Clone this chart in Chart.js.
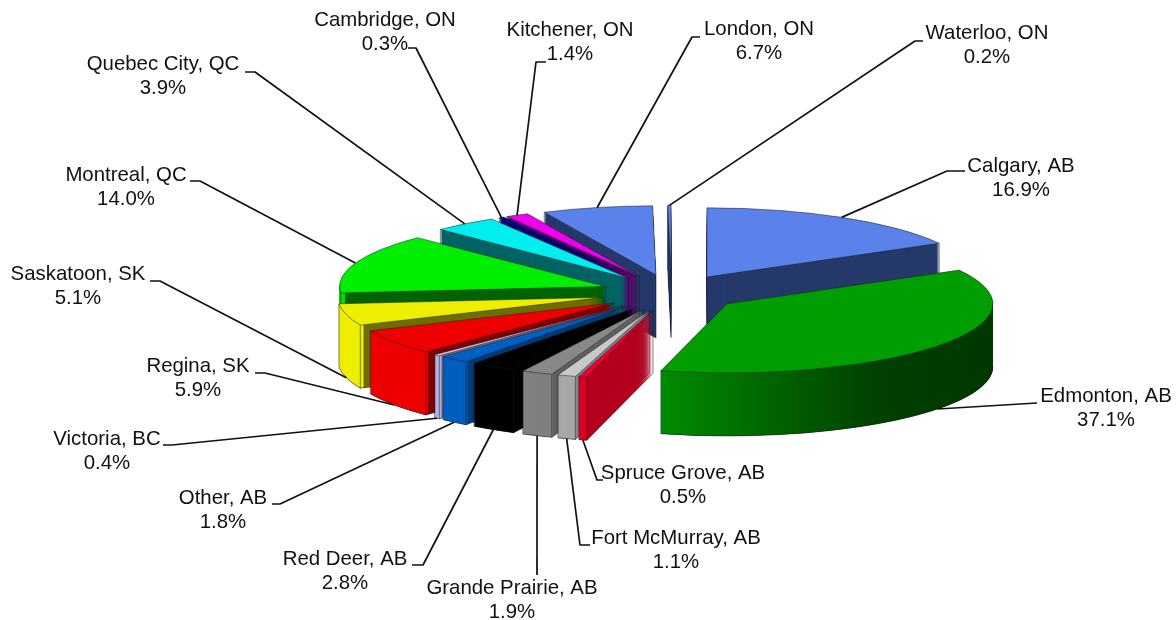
<!DOCTYPE html>
<html>
<head>
<meta charset="utf-8">
<style>html,body{margin:0;padding:0;background:#fff}canvas{display:block}</style>
<script src="https://cdn.jsdelivr.net/npm/chart.js@4"></script>
</head>
<body>
<canvas id="c" width="1176" height="620"></canvas>
<script>
const categories = ['Calgary, AB','Edmonton, AB','Spruce Grove, AB','Fort McMurray, AB','Grande Prairie, AB','Red Deer, AB','Other, AB','Victoria, BC','Regina, SK','Saskatoon, SK','Montreal, QC','Quebec City, QC','Cambridge, ON','Kitchener, ON','London, ON','Waterloo, ON'];
const shares = [16.9,37.1,0.5,1.1,1.9,2.8,1.8,0.4,5.9,5.1,14.0,3.9,0.3,1.4,6.7,0.2];
const topColors = ['#5B82EB','#009E00','#EE0030','#C8C8C8','#888888','#000000','#005FC4','#C4C4F2','#EE0000','#EEEE00','#00EE00','#00EEEE','#0000A0','#EE00EE','#5B82EB','#5B82EB'];
const wallColors = ['#25396A','#004800','#B4001E','#808080','#606060','#000000','#003C78','#70708C','#800000','#6E6E00','#006400','#006464','#00006E','#700070','#25396A','#25396A'];
const rimColors = ['#25396A',['#008C00','#004000','#003800'],'#DC0028','#A8A8A8','#808080','#000000','#005FBF','#B4B4E6','#EE0000','#EEEE00','#00E000','#00E0E0','#000090','#E000E0','#25396A','#25396A'];

// label text centre x, first-line middle y, leader elbow x/y, leader end x
const labelLayout = [
 [1021,165,947,171,965],[1106,395,1037,403,1037],[683,472,597,480,603],[676,537,580,545,590],
 [512,587,537,575,537],[345,558,423,565,412],[223,497,280,504,272],[107,438,172,445,163],
 [198,365,265,373,255],[78,273,160,281,150],[126,174,200,181,190],[163,63,255,72,245],
 [385,19,416,48,408],[570,29,536,62,546],[759,28,692,37,700],[987,32,915,41,923]
];

const PIE = {cx:671.5, cy:292.7, radius:266, tilt:0.26, explode:70, depth:63};
const FONT = '20.4px "Liberation Sans", Arial, sans-serif';

function clockAngle(a){ return (a.startAngle + a.endAngle)/2 + Math.PI/2; }
function apexOf(a){
  const t = clockAngle(a);
  return {x: PIE.cx + Math.sin(t)*PIE.explode, y: PIE.cy - Math.cos(t)*PIE.explode*PIE.tilt};
}
function paint(ctx, arc, apex, d, fill, inner, from, to){
  const o = arc.options, ir = arc.innerRadius, s0 = arc.startAngle, e0 = arc.endAngle;
  const t = Object.create(o);
  t.backgroundColor = fill; t.borderWidth = 0;
  arc.options = t;
  if (inner !== undefined) arc.innerRadius = inner;
  if (from !== undefined){ arc.startAngle = from; arc.endAngle = to; }
  ctx.save();
  ctx.translate(apex.x, apex.y + d);
  ctx.scale(1, PIE.tilt);
  ctx.translate(-arc.x, -arc.y);
  arc.draw(ctx);
  ctx.restore();
  arc.options = o; arc.innerRadius = ir; arc.startAngle = s0; arc.endAngle = e0;
}
function rimPoint(apex, ang, d){
  return {x: apex.x + Math.cos(ang)*PIE.radius, y: apex.y + d + Math.sin(ang)*PIE.radius*PIE.tilt};
}
function seg(ctx,p,q){ ctx.beginPath(); ctx.moveTo(p.x,p.y); ctx.lineTo(q.x,q.y); ctx.stroke(); }

const pie3d = {
  id:'pie3d',
  beforeDatasetsDraw(chart){
    const ctx = chart.ctx, arcs = chart.getDatasetMeta(0).data;
    const order = arcs.map((a,i)=>i).sort((p,q)=>-Math.cos(clockAngle(arcs[p])) + Math.cos(clockAngle(arcs[q])));
    const R = PIE.radius, D = PIE.depth;
    order.forEach(i=>{
      const a = arcs[i], apex = apexOf(a), s = a.startAngle, e = a.endAngle;
      let rim = rimColors[i];
      if (Array.isArray(rim)){
        const g = ctx.createLinearGradient(a.x-0.25*R,0,a.x+R,0);
        g.addColorStop(0,rim[0]); g.addColorStop(0.65,rim[1]); g.addColorStop(1,rim[2]);
        rim = g;
      }
      for (let d=D; d>0; d-=1) paint(ctx,a,apex,d,wallColors[i]);
      const f0 = Math.max(s,0), f1 = Math.min(e,Math.PI);
      if (f1>f0) for (let d=D; d>0; d-=0.5) paint(ctx,a,apex,d,rim,R-4,f0,f1);
      // wall edges
      ctx.save();
      ctx.strokeStyle='rgba(25,25,25,0.75)'; ctx.lineWidth=0.7;
      const startVis = Math.sin(s-Math.PI/2)>0, endVis = Math.sin(e+Math.PI/2)>0;
      const A0={x:apex.x,y:apex.y}, A1={x:apex.x,y:apex.y+D};
      if (startVis||endVis) seg(ctx,A0,A1);
      if (startVis) seg(ctx,A1,rimPoint(apex,s,D));
      if (endVis) seg(ctx,A1,rimPoint(apex,e,D));
      if (startVis||Math.sin(s)>0) seg(ctx,rimPoint(apex,s,0),rimPoint(apex,s,D));
      if (endVis||Math.sin(e)>0) seg(ctx,rimPoint(apex,e,0),rimPoint(apex,e,D));
      if (f1>f0){
        ctx.beginPath();
        ctx.ellipse(apex.x,apex.y+D,R,R*PIE.tilt,0,f0,f1);
        ctx.stroke();
      }
      ctx.restore();
      // top face
      paint(ctx,a,apex,0,topColors[i]);
      ctx.save();
      ctx.strokeStyle='rgba(25,25,25,0.7)'; ctx.lineWidth=0.7;
      ctx.beginPath();
      ctx.moveTo(apex.x,apex.y);
      ctx.ellipse(apex.x,apex.y,R,R*PIE.tilt,0,s,e);
      ctx.closePath();
      ctx.stroke();
      ctx.restore();
    });
    // leaders and labels
    ctx.save();
    ctx.strokeStyle='#111'; ctx.lineWidth=1.7; ctx.lineJoin='round';
    ctx.fillStyle='#111'; ctx.font=FONT; ctx.textAlign='center'; ctx.textBaseline='middle';
    arcs.forEach((a,i)=>{
      const L = labelLayout[i], apex = apexOf(a), mid=(a.startAngle+a.endAngle)/2;
      const p = rimPoint(apex, mid, Math.sin(mid)>0 ? D : 0);
      ctx.beginPath(); ctx.moveTo(p.x,p.y); ctx.lineTo(L[2],L[3]); ctx.lineTo(L[4],L[3]); ctx.stroke();
      ctx.fillText(categories[i], L[0], L[1]+1);
      ctx.fillText(shares[i].toFixed(1)+'%', L[0], L[1]+25.5);
    });
    ctx.restore();
    return false;
  }
};

new Chart(document.getElementById('c'),{
  type:'pie',
  data:{labels:categories,datasets:[{data:shares,backgroundColor:topColors,borderWidth:0}]},
  options:{
    responsive:false,animation:false,radius:PIE.radius,
    plugins:{legend:{display:false},tooltip:{enabled:false}},
    layout:{padding:0}
  },
  plugins:[pie3d]
});
</script>
</body>
</html>
